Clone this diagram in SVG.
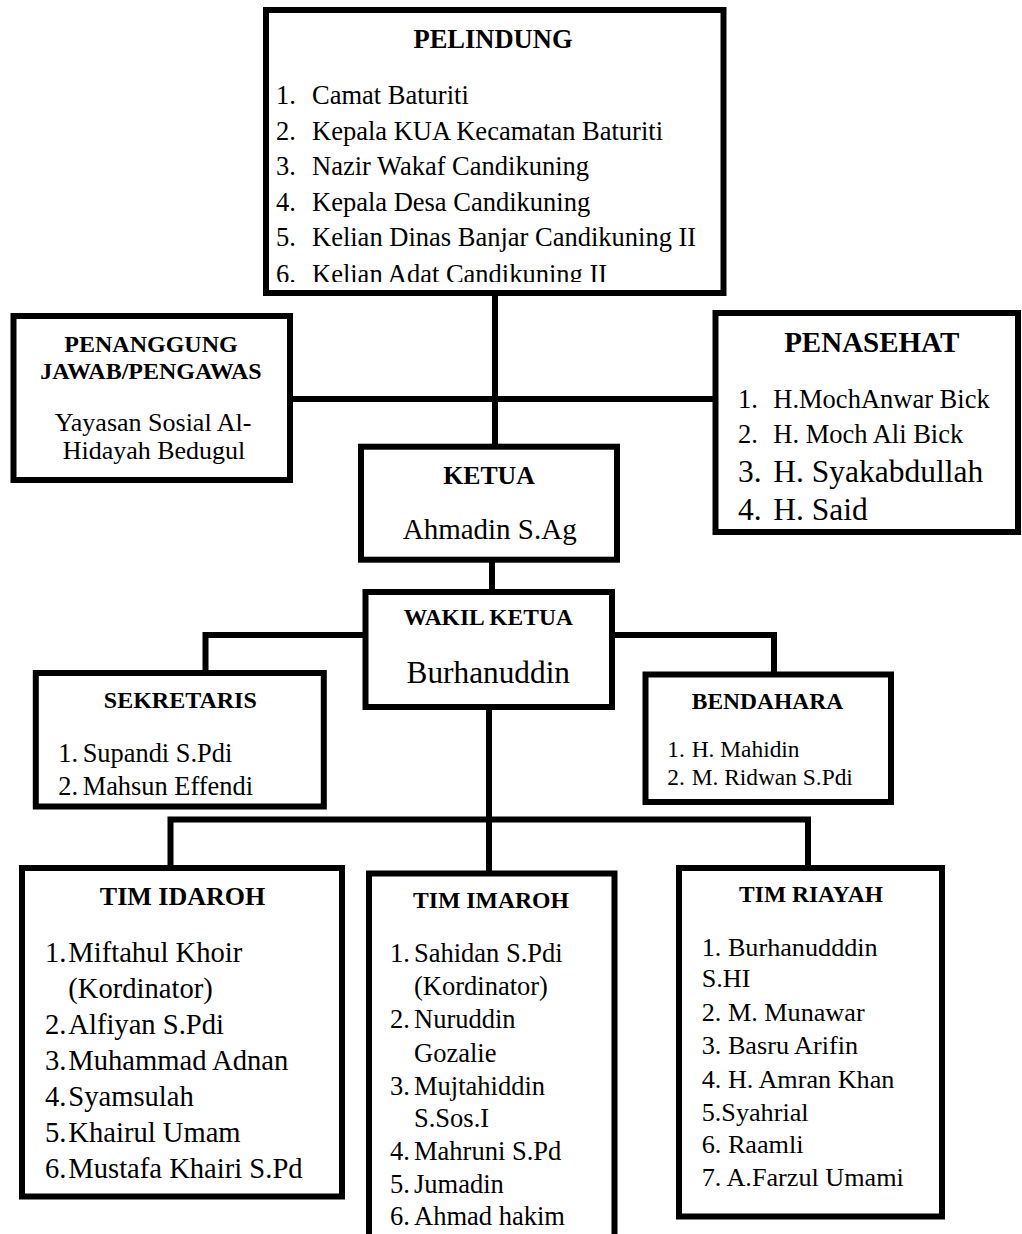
<svg xmlns="http://www.w3.org/2000/svg" width="1022" height="1234" viewBox="0 0 1022 1234">
<style>
  .box { fill: #fff; stroke: #000; stroke-width: 6; }
  .ln { fill: none; stroke: #000; stroke-width: 6; stroke-linejoin: miter; stroke-linecap: square; }
  text { font-family: "Liberation Serif", "Times New Roman", serif; fill: #000; }
  .b { font-weight: bold; }
  .c { text-anchor: middle; }
</style>
<defs>
  <clipPath id="clipTop"><rect x="268" y="13" width="452" height="269"/></clipPath>
</defs>
<rect width="1022" height="1234" fill="#fff"/>

<g id="connectors">
  <line class="ln" x1="495" y1="293" x2="495" y2="446"/>
  <line class="ln" x1="290" y1="399" x2="715" y2="399"/>
  <line class="ln" x1="492" y1="560" x2="492" y2="592"/>
  <polyline class="ln" points="365,635 205.5,635 205.5,673"/>
  <polyline class="ln" points="612,635 774,635 774,674"/>
  <line class="ln" x1="489" y1="707" x2="489" y2="873"/>
  <polyline class="ln" points="170.5,868 170.5,819.5 808,819.5 808,868"/>
</g>

<g id="pelindung">
  <rect class="box" x="266" y="10" width="457.5" height="283"/>
  <text class="b c" x="493" y="48" font-size="26.5">PELINDUNG</text>
  <g clip-path="url(#clipTop)" font-size="26.5">
    <text x="276" y="104">1.</text><text x="312" y="104">Camat Baturiti</text>
    <text x="276" y="139.6">2.</text><text x="312" y="139.6">Kepala KUA Kecamatan Baturiti</text>
    <text x="276" y="175.2">3.</text><text x="312" y="175.2">Nazir Wakaf Candikuning</text>
    <text x="276" y="210.8">4.</text><text x="312" y="210.8">Kepala Desa Candikuning</text>
    <text x="276" y="246.4">5.</text><text x="312" y="246.4">Kelian Dinas Banjar Candikuning II</text>
    <text x="276" y="283">6.</text><text x="312" y="283">Kelian Adat Candikuning II</text>
  </g>
</g>

<g id="penanggung-jawab">
  <rect class="box" x="13.5" y="316" width="276.5" height="164"/>
  <text class="b c" x="151" y="352" font-size="24">PENANGGUNG</text>
  <text class="b c" x="151" y="379" font-size="24">JAWAB/PENGAWAS</text>
  <text class="c" x="153" y="431" font-size="26">Yayasan Sosial Al-</text>
  <text class="c" x="154" y="459" font-size="26">Hidayah Bedugul</text>
</g>

<g id="penasehat">
  <rect class="box" x="715.5" y="313" width="302.5" height="219"/>
  <text class="b c" x="871.7" y="352" font-size="29">PENASEHAT</text>
  <g font-size="26.5">
    <text x="738" y="408.3">1.</text><text x="773.3" y="408.3">H.MochAnwar Bick</text>
    <text x="738" y="443.3">2.</text><text x="773.3" y="443.3">H. Moch Ali Bick</text>
  </g>
  <g font-size="31.5">
    <text x="738" y="481.7">3.</text><text x="773.3" y="481.7">H. Syakabdullah</text>
    <text x="738" y="520">4.</text><text x="773.3" y="520">H. Said</text>
  </g>
</g>

<g id="ketua">
  <rect class="box" x="361" y="446.7" width="256" height="113"/>
  <text class="b c" x="489" y="484.3" font-size="25.8">KETUA</text>
  <text class="c" x="489.7" y="539.3" font-size="29">Ahmadin S.Ag</text>
</g>

<g id="wakil-ketua">
  <rect class="box" x="365.5" y="592" width="246.5" height="115"/>
  <text class="b c" x="488.3" y="625" font-size="23.5">WAKIL KETUA</text>
  <text class="c" x="488.3" y="682.7" font-size="31.3">Burhanuddin</text>
</g>

<g id="sekretaris">
  <rect class="box" x="35.8" y="673" width="288" height="133.5"/>
  <text class="b c" x="180.3" y="708.3" font-size="24">SEKRETARIS</text>
  <g font-size="26.4">
    <text x="58.3" y="761.7">1.</text><text x="82.7" y="761.7">Supandi S.Pdi</text>
    <text x="58.3" y="795">2.</text><text x="82.7" y="795">Mahsun Effendi</text>
  </g>
</g>

<g id="bendahara">
  <rect class="box" x="645.5" y="674.5" width="245.5" height="127.5"/>
  <text class="b c" x="767.5" y="709.3" font-size="23.5">BENDAHARA</text>
  <g font-size="23.4">
    <text x="667.3" y="756.7">1.</text><text x="691.7" y="756.7">H. Mahidin</text>
    <text x="667.3" y="785">2.</text><text x="691.7" y="785">M. Ridwan S.Pdi</text>
  </g>
</g>

<g id="tim-idaroh">
  <rect class="box" x="22" y="868" width="320" height="328.5"/>
  <text class="b c" x="182.5" y="905" font-size="26">TIM IDAROH</text>
  <g font-size="28.6">
    <text x="45" y="961.7">1.</text><text x="68.3" y="961.7">Miftahul Khoir</text>
    <text x="68.3" y="998.3">(Kordinator)</text>
    <text x="45" y="1033.5">2.</text><text x="68.3" y="1033.5">Alfiyan S.Pdi</text>
    <text x="45" y="1070">3.</text><text x="68.3" y="1070">Muhammad Adnan</text>
    <text x="45" y="1106">4.</text><text x="68.3" y="1106">Syamsulah</text>
    <text x="45" y="1142.3">5.</text><text x="68.3" y="1142.3">Khairul Umam</text>
    <text x="45" y="1178.3">6.</text><text x="68.3" y="1178.3">Mustafa Khairi S.Pd</text>
  </g>
</g>

<g id="tim-imaroh">
  <rect class="box" x="369" y="873.5" width="245.5" height="400"/>
  <text class="b c" x="491" y="908.3" font-size="23.7">TIM IMAROH</text>
  <g font-size="26.5">
    <text x="390" y="961.7">1.</text><text x="414" y="961.7">Sahidan S.Pdi</text>
    <text x="414" y="995">(Kordinator)</text>
    <text x="390" y="1028.3">2.</text><text x="414" y="1028.3">Nuruddin</text>
    <text x="414" y="1061.7">Gozalie</text>
    <text x="390" y="1095">3.</text><text x="414" y="1095">Mujtahiddin</text>
    <text x="414" y="1126.7">S.Sos.I</text>
    <text x="390" y="1160">4.</text><text x="414" y="1160">Mahruni S.Pd</text>
    <text x="390" y="1193.3">5.</text><text x="414" y="1193.3">Jumadin</text>
    <text x="390" y="1225">6.</text><text x="414" y="1225">Ahmad hakim</text>
  </g>
</g>

<g id="tim-riayah">
  <rect class="box" x="679" y="868" width="263" height="348.5"/>
  <text class="b c" x="811" y="901.7" font-size="23.5">TIM RIAYAH</text>
  <g font-size="26.2">
    <text x="701.7" y="956">1. Burhanudddin</text>
    <text x="701.7" y="987.3">S.HI</text>
    <text x="701.7" y="1021">2. M. Munawar</text>
    <text x="701.7" y="1054.3">3. Basru Arifin</text>
    <text x="701.7" y="1088.3">4. H. Amran Khan</text>
    <text x="701.7" y="1121">5.Syahrial</text>
    <text x="701.7" y="1153.3">6. Raamli</text>
    <text x="701.7" y="1186">7. A.Farzul Umami</text>
  </g>
</g>
</svg>
